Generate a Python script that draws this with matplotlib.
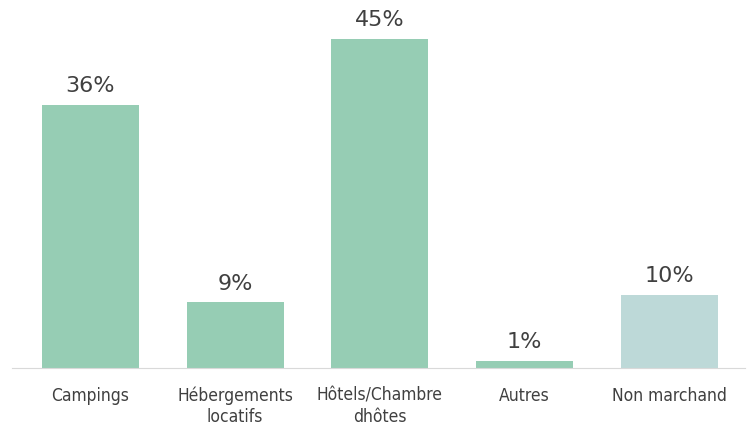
import matplotlib.pyplot as plt

# données
categories = ['Campings', 'Hébergements\nlocatifs', 'Hôtels/Chambre\ndhôtes', 'Autres', 'Non marchand']
valeurs = [36, 9, 45, 1, 10]
couleurs = ['#96cdb4', '#96cdb4', '#96cdb4', '#96cdb4', '#bdd9d8']

plt.rcParams['font.family'] = ['DejaVu Sans']
plt.rcParams['font.stretch'] = 'condensed'

fig = plt.figure(figsize=(7.56, 4.27), dpi=100)
ax = fig.add_axes([0.016, 0.136, 0.969, 0.856])

x = range(len(categories))
ax.bar(x, valeurs, width=0.67, color=couleurs)

# étiquettes au-dessus des barres
for i, v in zip(x, valeurs):
    ax.text(i, v + 1.3, f'{v}%', ha='center', va='bottom', fontsize=16,
            color='#404040', stretch='normal')

ax.set_xlim(-0.54, 4.52)
ax.set_ylim(0, 50)
ax.set_xticks(list(x))
ax.set_xticklabels(categories, fontsize=12.5, color='#404040', linespacing=1.2)
ax.tick_params(axis='x', length=0, pad=13)
ax.set_yticks([])
for s in ['top', 'right', 'left']:
    ax.spines[s].set_visible(False)
ax.spines['bottom'].set_color('#d9d9d9')

fig.savefig('out.png', dpi=100)
